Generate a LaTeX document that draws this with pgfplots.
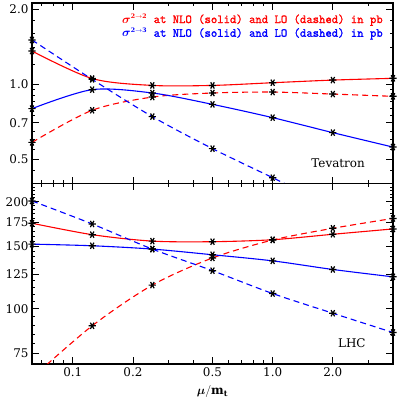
\documentclass[border=0pt]{standalone}
\usepackage{fontspec}
\setmainfont{DejaVu Serif}
\newfontfamily\legfont{Latin Modern Mono}[FakeBold=1.6]
\usepackage{amsmath}
\usepackage{pgfplots}
\pgfplotsset{compat=1.18}
\usepgfplotslibrary{groupplots}

\definecolor{nlored}{RGB}{255,0,0}
\definecolor{nloblue}{RGB}{0,0,255}

\pgfplotsset{
  nlocurve/.style={line width=1.1bp, smooth, mark=asterisk, mark size=3.6bp,
              mark options={black, solid, rotate=90, line width=1.2bp}},
  locurve/.style={nlocurve, dash pattern=on 6bp off 4bp},
}

\begin{document}
\begin{tikzpicture}
\begin{groupplot}[group style={group size=1 by 2, vertical sep=0pt},
    xmode=log, ymode=log,
    width=361bp, height=180.5bp, scale only axis,
    xmin=0.0625, xmax=4,
    xtick={0.1,0.2,0.5,1,2}, xticklabels={0.1,0.2,0.5,1.0,2.0},
    minor xtick={0.07,0.08,0.09,0.3,0.4,0.6,0.7,0.8,0.9,3},
    tick align=inside, xtick pos=both, ytick pos=both,
    major tick length=7bp, minor tick length=3.5bp,
    axis line style={line width=1.1bp},
    every tick/.style={black, line width=0.9bp},
    ticklabel style={font=\fontsize{12}{14}\selectfont},
    /pgf/number format/assume math mode=true]

% Tevatron
\nextgroupplot[xticklabels={},
  ymin=0.4, ymax=2.12,
  ytick={0.5,0.7,1,2}, yticklabels={0.5,0.7,1.0,2.0},
  minor ytick={0.4,0.45,0.55,0.6,0.65,0.75,0.8,0.85,0.9,0.95,1.2,1.4,1.6,1.8}]
\addplot[nlored, nlocurve] coordinates {(0.0625,1.36)(0.125,1.055)(0.25,0.99)(0.5,0.99)(1,1.015)(2,1.04)(4,1.057)};
\addplot[nlored, locurve] coordinates {(0.0625,0.585)(0.125,0.787)(0.25,0.889)(0.5,0.923)(1,0.931)(2,0.914)(4,0.895)};
\addplot[nloblue, nlocurve] coordinates {(0.0625,0.799)(0.125,0.952)(0.25,0.923)(0.5,0.831)(1,0.735)(2,0.64)(4,0.56)};
\addplot[nloblue, locurve] coordinates {(0.0625,1.507)(0.125,1.047)(0.25,0.742)(0.5,0.552)(1,0.422)(2,0.322)};
\node[anchor=east, text=nlored, font=\legfont\fontsize{12.4}{15}\selectfont, inner sep=0pt] at (rel axis cs:0.972,0.906) {$\boldsymbol{\sigma}^{\scriptscriptstyle\mathbf{2\to2}}$ at NLO (solid) and LO (dashed) in pb};
\node[anchor=east, text=nloblue, font=\legfont\fontsize{12.4}{15}\selectfont, inner sep=0pt] at (rel axis cs:0.972,0.830) {$\boldsymbol{\sigma}^{\scriptscriptstyle\mathbf{2\to3}}$ at NLO (solid) and LO (dashed) in pb};
\node[font=\fontsize{12}{14}\selectfont] at (rel axis cs:0.848,0.111) {Tevatron};

% LHC
\nextgroupplot[
  ymin=70, ymax=225,
  ytick={75,100,125,150,175,200}, yticklabels={75,100,125,150,175,200},
  minor ytick={70,80,85,90,95,105,110,115,120,130,135,140,145,155,160,165,170,180,185,190,195,205,210,215,220,225},
  xlabel={$\boldsymbol{\mu}/\mathbf{m_t}$},
  xlabel style={font=\fontsize{12}{14}\selectfont, yshift=-2bp}]
\addplot[nlored, nlocurve] coordinates {(0.0625,174)(0.125,161.6)(0.25,155)(0.5,154.4)(1,156.4)(2,162)(4,167.7)};
\addplot[nlored, locurve] coordinates {(0.0625,64)(0.125,89.6)(0.25,116.6)(0.5,139)(1,156.1)(2,168.4)(4,179.5)};
\addplot[nloblue, nlocurve] coordinates {(0.0625,152)(0.125,150.4)(0.25,147.2)(0.5,141.9)(1,136.4)(2,129)(4,123)};
\addplot[nloblue, locurve] coordinates {(0.0625,201)(0.125,173.2)(0.25,147.2)(0.5,128)(1,110.4)(2,97.2)(4,85.8)};
\node[font=\fontsize{12}{14}\selectfont] at (rel axis cs:0.886,0.116) {LHC};
\end{groupplot}
\pgfresetboundingbox
\path[use as bounding box] ([shift={(-32bp,-41bp)}]group c1r2.south west) rectangle ([shift={(5bp,3bp)}]group c1r1.north east);
\end{tikzpicture}
\end{document}
